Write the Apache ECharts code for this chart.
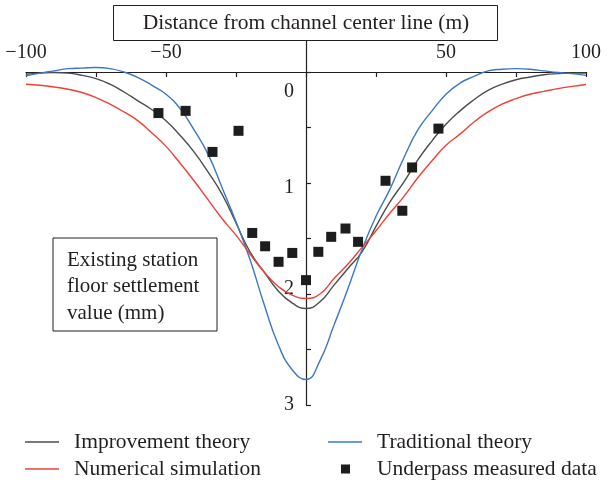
<!DOCTYPE html>
<html>
<head>
<meta charset="utf-8">
<script src="https://cdn.jsdelivr.net/npm/echarts@6/dist/echarts.min.js"></script>
<style>
  html, body { margin: 0; padding: 0; background: #fff; }
  #chart { width: 612px; height: 485px; }
</style>
</head>
<body>
<div id="chart"></div>
<script>
// Distance from the channel center line (m)
const distance = [-100, -95, -90, -85, -80, -75, -70, -65, -60, -55, -50, -45, -40, -35, -30, -25, -20, -15, -10, -5,
                  0, 5, 10, 15, 20, 25, 30, 35, 40, 45, 50, 55, 60, 65, 70, 75, 80, 85, 90, 95, 100];

// Settlement curves (mm)
const improvementTheory = [0.02, 0.01, 0.005, 0.01, 0.03, 0.06, 0.11, 0.18, 0.26, 0.34, 0.44, 0.57, 0.72, 0.9, 1.1, 1.36, 1.62, 1.8, 1.97, 2.08,
                           2.13, 2.07, 1.92, 1.77, 1.62, 1.39, 1.17, 0.99, 0.79, 0.62, 0.47, 0.35, 0.25, 0.165, 0.11, 0.07, 0.045, 0.025, 0.015, 0.01, 0.01];
const traditionalTheory = [0.035, 0.01, -0.01, -0.03, -0.035, -0.04, -0.03, 0.0, 0.05, 0.12, 0.2, 0.33, 0.52, 0.74, 1.04, 1.35, 1.69, 2.09, 2.45, 2.68,
                           2.77, 2.6, 2.28, 1.95, 1.6, 1.3, 1.055, 0.77, 0.52, 0.35, 0.2, 0.1, 0.04, -0.01, -0.025, -0.03, -0.025, -0.01, 0.005, 0.015, 0.03];
const numericalSimulation = [0.11, 0.12, 0.135, 0.155, 0.185, 0.23, 0.29, 0.36, 0.44, 0.55, 0.67, 0.82, 0.98, 1.15, 1.32, 1.47, 1.64, 1.8, 1.93, 2.01,
                             2.04, 2.0, 1.86, 1.73, 1.58, 1.43, 1.27, 1.12, 0.95, 0.8, 0.66, 0.56, 0.45, 0.36, 0.29, 0.24, 0.2, 0.175, 0.15, 0.13, 0.113];

// Underpass measured data: distance (m), settlement (mm)
const measuredX = [-52.7, -43.0, -33.4, -24.1, -19.2, -14.6, -9.8, -4.9, 0, 4.4, 9.0, 14.1, 18.6, 28.4, 34.4, 37.9, 47.3];
const measuredY = [0.37, 0.35, 0.72, 0.53, 1.45, 1.57, 1.71, 1.63, 1.875, 1.62, 1.485, 1.41, 1.53, 0.98, 1.25, 0.86, 0.51];

const xTickLabels = { '-100': '\u2212100', '-50': '\u221250', '50': '50', '100': '100' };
const yTickLabels = { '0': '{z|0}', '1': '{o|1}', '2': '{t|2}', '3': '{h|3}' };

const FONT = '"Liberation Serif", "DejaVu Serif", serif';
const FS = 20;      // tick labels
const FT = 21.5;    // legend, boxed captions
const INK = '#231f20';
const GRAY = '#4d4d4d', RED = '#ef4136', BLUE = '#3b78c6';

const zip = (xs, ys) => xs.map((x, i) => [x, ys[i]]);

const chart = echarts.init(document.getElementById('chart'), null, { renderer: 'canvas' });

const lineSeries = (name, values, color) => ({
  name, type: 'line', data: zip(distance, values), smooth: true, symbol: 'none', clip: false,
  lineStyle: { color, width: 1.4 }, itemStyle: { color }, z: 3
});

const labelStyle = pad => ({ fontFamily: FONT, fontSize: FS, color: INK, padding: pad });

chart.setOption({
  animation: false,
  backgroundColor: '#fff',
  textStyle: { fontFamily: FONT, color: INK },
  grid: { left: 26, right: 26, top: 72, bottom: 80 },
  xAxis: {
    type: 'value', min: -100, max: 100, interval: 25, position: 'top',
    axisLine: { onZero: false, lineStyle: { color: INK, width: 1.2 } },
    axisTick: { inside: true, length: 5, lineStyle: { color: INK, width: 1.2 } },
    axisLabel: {
      margin: 9, fontFamily: FONT, fontSize: FS, color: INK,
      formatter: v => xTickLabels[String(v)] || ''
    },
    splitLine: { show: false }
  },
  yAxis: {
    // vertical axis sits on the center line (x = 0), half the grid width to the right
    type: 'value', min: 0, max: 3, interval: 0.5, inverse: true, position: 'left', offset: -280,
    axisLine: { onZero: false, lineStyle: { color: INK, width: 1.2 } },
    axisTick: { inside: true, length: 5, lineStyle: { color: INK, width: 1.2 } },
    axisLabel: {
      margin: 12, fontFamily: FONT, fontSize: FS, color: INK,
      formatter: v => yTickLabels[String(v)] || '',
      rich: {
        z: labelStyle([40, 0, 0, 0]),
        o: labelStyle([10, 0, 0, 0]),
        t: labelStyle([0, 0, 10, 0]),
        h: labelStyle([0, 0, 0, 0])
      }
    },
    splitLine: { show: false }
  },
  legend: [
    { data: ['Improvement theory'], left: 25, top: 431 },
    { data: ['Numerical simulation'], left: 25, top: 458 },
    { data: ['Traditional theory'], left: 328, top: 431 },
    { data: ['Underpass measured data'], left: 341, top: 458, itemWidth: 9, itemHeight: 9,
      textStyle: { fontFamily: FONT, fontSize: FT, color: INK, padding: [0, 0, 0, 22] } }
  ].map(l => Object.assign({
    orient: 'horizontal', itemWidth: 34, itemHeight: 1.6, padding: 0, icon: 'rect',
    textStyle: { fontFamily: FONT, fontSize: FT, color: INK, padding: [0, 0, 0, 10] }
  }, l)),
  graphic: [
    { type: 'rect', shape: { x: 113.5, y: 5.5, width: 384, height: 35 }, style: { fill: '#fff', stroke: INK, lineWidth: 1 } },
    { type: 'text', style: { x: 306, y: 23, text: 'Distance from channel center line (m)', font: FT + 'px ' + FONT, fill: INK, align: 'center', verticalAlign: 'middle' } },
    { type: 'line', shape: { x1: 306.5, y1: 40.5, x2: 306.5, y2: 72 }, style: { stroke: INK, lineWidth: 1.2 } },
    { type: 'rect', shape: { x: 53, y: 238, width: 164, height: 93 }, style: { fill: '#fff', stroke: INK, lineWidth: 1 }, z: 10 },
    { type: 'text', style: { x: 67, y: 247, text: 'Existing station\nfloor settlement\nvalue (mm)', font: '21px ' + FONT, lineHeight: 26.5, fill: INK, align: 'left', verticalAlign: 'top' }, z: 11 }
  ],
  series: [
    lineSeries('Improvement theory', improvementTheory, GRAY),
    lineSeries('Traditional theory', traditionalTheory, BLUE),
    lineSeries('Numerical simulation', numericalSimulation, RED),
    {
      name: 'Underpass measured data', type: 'scatter', data: zip(measuredX, measuredY),
      symbol: 'rect', symbolSize: 10, itemStyle: { color: '#1d1d1d', opacity: 1 }, z: 4
    }
  ]
});
</script>
</body>
</html>
